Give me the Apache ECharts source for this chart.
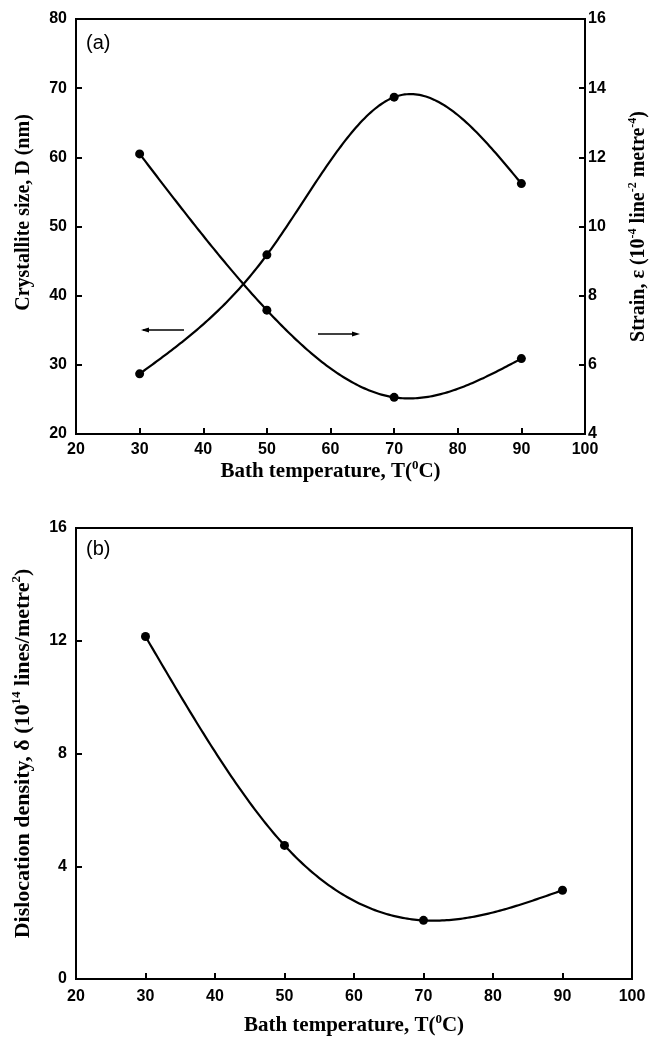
<!DOCTYPE html>
<html>
<head>
<meta charset="utf-8">
<script src="https://cdn.jsdelivr.net/npm/echarts@6/dist/echarts.min.js"></script>
<style>
html,body{margin:0;padding:0;background:#fff;}
#c{width:649px;height:1037px;}
</style>
</head>
<body>
<div id="c"></div>
<script>
// ---- data ----
var bathTemp = [30, 50, 70, 90];
var crystalliteSize = [28.7, 45.9, 68.7, 56.2];   // nm, left axis (a)
var strain = [12.1, 7.58, 5.06, 6.18];            // 10^-4 line^-2 metre^-4, right axis (a)
var dislocation = [12.15, 4.74, 2.08, 3.15];      // 10^14 lines/metre^2 (b)
var xTicks = [20, 30, 40, 50, 60, 70, 80, 90, 100];
var sizeTicks = [20, 30, 40, 50, 60, 70, 80];
var strainTicks = [4, 6, 8, 10, 12, 14, 16];
var dislocTicks = [0, 4, 8, 12, 16];

function pairs(xs, ys) { return xs.map(function (x, i) { return [x, ys[i]]; }); }

// natural cubic spline through the data points (used only to draw the smooth curve)
function naturalSpline(xs, ys) {
  var n = xs.length, h = [], i;
  for (i = 0; i < n - 1; i++) h.push(xs[i + 1] - xs[i]);
  var a = [], b = [], c = [], d = [];
  for (i = 1; i < n - 1; i++) {
    a.push(h[i - 1]); b.push(2 * (h[i - 1] + h[i])); c.push(h[i]);
    d.push(6 * ((ys[i + 1] - ys[i]) / h[i] - (ys[i] - ys[i - 1]) / h[i - 1]));
  }
  var m = d.length;
  for (i = 1; i < m; i++) { var w = a[i] / b[i - 1]; b[i] -= w * c[i - 1]; d[i] -= w * d[i - 1]; }
  var Mi = new Array(m);
  for (i = m - 1; i >= 0; i--) Mi[i] = (d[i] - (i < m - 1 ? c[i] * Mi[i + 1] : 0)) / b[i];
  var M = [0].concat(Mi).concat([0]);
  return function (x) {
    var k = 0;
    while (k < n - 2 && x > xs[k + 1]) k++;
    var hk = h[k], t1 = xs[k + 1] - x, t0 = x - xs[k];
    return M[k] * t1 * t1 * t1 / (6 * hk) + M[k + 1] * t0 * t0 * t0 / (6 * hk)
      + (ys[k] / hk - M[k] * hk / 6) * t1 + (ys[k + 1] / hk - M[k + 1] * hk / 6) * t0;
  };
}

function splineRender(xs, ys) {
  var f = naturalSpline(xs, ys);
  return function (params, api) {
    var i = params.dataIndex;
    if (i >= xs.length - 1) return { type: 'group', children: [] };
    var pts = [];
    for (var k = 0; k <= 60; k++) {
      var x = xs[i] + (xs[i + 1] - xs[i]) * k / 60;
      pts.push(api.coord([x, f(x)]));
    }
    return { type: 'polyline', shape: { points: pts }, style: { stroke: '#000', lineWidth: 2.2, fill: 'none' } };
  };
}

var labelFont = { color: '#000', fontFamily: 'Liberation Sans', fontWeight: 'bold', fontSize: 16 };
function sup(fs) { return { fontFamily: 'Liberation Serif', fontWeight: 'bold', fontSize: fs, lineHeight: fs, verticalAlign: 'top', color: '#000' }; }
function titleStyle(fs, pad) {
  return { color: '#000', fontFamily: 'Liberation Serif', fontWeight: 'bold', fontSize: fs, lineHeight: fs + 4,
           padding: pad || 0, rich: { s: sup(Math.round(fs * 0.6)) } };
}

function axLine() { return { show: true, lineStyle: { color: '#000', width: 2 } }; }
function axTick() { return { show: true, inside: true, length: 6, lineStyle: { color: '#000', width: 2 } }; }

var chart = echarts.init(document.getElementById('c'), null, { renderer: 'canvas' });
chart.setOption({
  backgroundColor: '#fff',
  animation: false,
  grid: [
    { left: 76, right: 64, top: 19, height: 415, show: true, borderColor: '#000', borderWidth: 2, backgroundColor: 'transparent',
      containLabel: false, outerBoundsMode: 'none' },
    { left: 76, right: 17, top: 528, height: 451, show: true, borderColor: '#000', borderWidth: 2, backgroundColor: 'transparent',
      containLabel: false, outerBoundsMode: 'none' }
  ],
  xAxis: [
    { type: 'value', gridIndex: 0, min: xTicks[0], max: xTicks[xTicks.length - 1], interval: 10,
      axisLine: axLine(), axisTick: axTick(), splitLine: { show: false },
      axisLabel: Object.assign({ margin: 8 }, labelFont),
      name: 'Bath temperature, T({s|0}C)', nameLocation: 'middle', nameGap: 24, nameTextStyle: titleStyle(21) },
    { type: 'value', gridIndex: 1, min: xTicks[0], max: xTicks[xTicks.length - 1], interval: 10,
      axisLine: axLine(), axisTick: axTick(), splitLine: { show: false },
      axisLabel: Object.assign({ margin: 10 }, labelFont),
      name: 'Bath temperature, T({s|0}C)', nameLocation: 'middle', nameGap: 34, nameTextStyle: titleStyle(21) }
  ],
  yAxis: [
    { type: 'value', gridIndex: 0, position: 'left', min: sizeTicks[0], max: sizeTicks[sizeTicks.length - 1], interval: 10,
      axisLine: axLine(), axisTick: axTick(), splitLine: { show: false },
      axisLabel: Object.assign({ margin: 9 }, labelFont),
      name: 'Crystallite size, D (nm)', nameLocation: 'middle', nameGap: 40, nameTextStyle: titleStyle(20, [0, 0, 0, 28]) },
    { type: 'value', gridIndex: 0, position: 'right', min: strainTicks[0], max: strainTicks[strainTicks.length - 1], interval: 2,
      axisLine: axLine(), axisTick: axTick(), splitLine: { show: false },
      axisLabel: Object.assign({ margin: 3 }, labelFont),
      name: 'Strain, ε (10{s|-4} line{s|-2} metre{s|-4})', nameLocation: 'middle', nameGap: 42, nameTextStyle: titleStyle(20) },
    { type: 'value', gridIndex: 1, position: 'left', min: dislocTicks[0], max: dislocTicks[dislocTicks.length - 1], interval: 4,
      axisLine: axLine(), axisTick: axTick(), splitLine: { show: false },
      axisLabel: Object.assign({ margin: 9 }, labelFont),
      name: 'Dislocation density, δ (10{s|14} lines/metre{s|2})', nameLocation: 'middle', nameGap: 40, nameTextStyle: titleStyle(22) }
  ],
  graphic: [
    { type: 'text', left: 86, top: 33, style: { text: '(a)', fontFamily: 'Liberation Sans', fontSize: 20, fill: '#000' } },
    { type: 'text', left: 86, top: 539, style: { text: '(b)', fontFamily: 'Liberation Sans', fontSize: 20, fill: '#000' } },
    // direction arrows indicating which axis each curve belongs to
    { type: 'line', shape: { x1: 143, y1: 330, x2: 184, y2: 330 }, style: { stroke: '#000', lineWidth: 1.5 } },
    { type: 'polygon', shape: { points: [[141, 330], [149, 327.5], [149, 332.5]] }, style: { fill: '#000' } },
    { type: 'line', shape: { x1: 318, y1: 334, x2: 357, y2: 334 }, style: { stroke: '#000', lineWidth: 1.5 } },
    { type: 'polygon', shape: { points: [[360, 334], [352, 331.5], [352, 336.5]] }, style: { fill: '#000' } }
  ],
  series: [
    { type: 'custom', coordinateSystem: 'cartesian2d', xAxisIndex: 0, yAxisIndex: 0,
      data: pairs(bathTemp, crystalliteSize), renderItem: splineRender(bathTemp, crystalliteSize), silent: true },
    { type: 'custom', coordinateSystem: 'cartesian2d', xAxisIndex: 0, yAxisIndex: 1,
      data: pairs(bathTemp, strain), renderItem: splineRender(bathTemp, strain), silent: true },
    { type: 'custom', coordinateSystem: 'cartesian2d', xAxisIndex: 1, yAxisIndex: 2,
      data: pairs(bathTemp, dislocation), renderItem: splineRender(bathTemp, dislocation), silent: true },
    { type: 'scatter', xAxisIndex: 0, yAxisIndex: 0, data: pairs(bathTemp, crystalliteSize),
      symbol: 'circle', symbolSize: 9, itemStyle: { color: '#000', opacity: 1 } },
    { type: 'scatter', xAxisIndex: 0, yAxisIndex: 1, data: pairs(bathTemp, strain),
      symbol: 'circle', symbolSize: 9, itemStyle: { color: '#000', opacity: 1 } },
    { type: 'scatter', xAxisIndex: 1, yAxisIndex: 2, data: pairs(bathTemp, dislocation),
      symbol: 'circle', symbolSize: 9, itemStyle: { color: '#000', opacity: 1 } }
  ]
});
</script>
</body>
</html>
